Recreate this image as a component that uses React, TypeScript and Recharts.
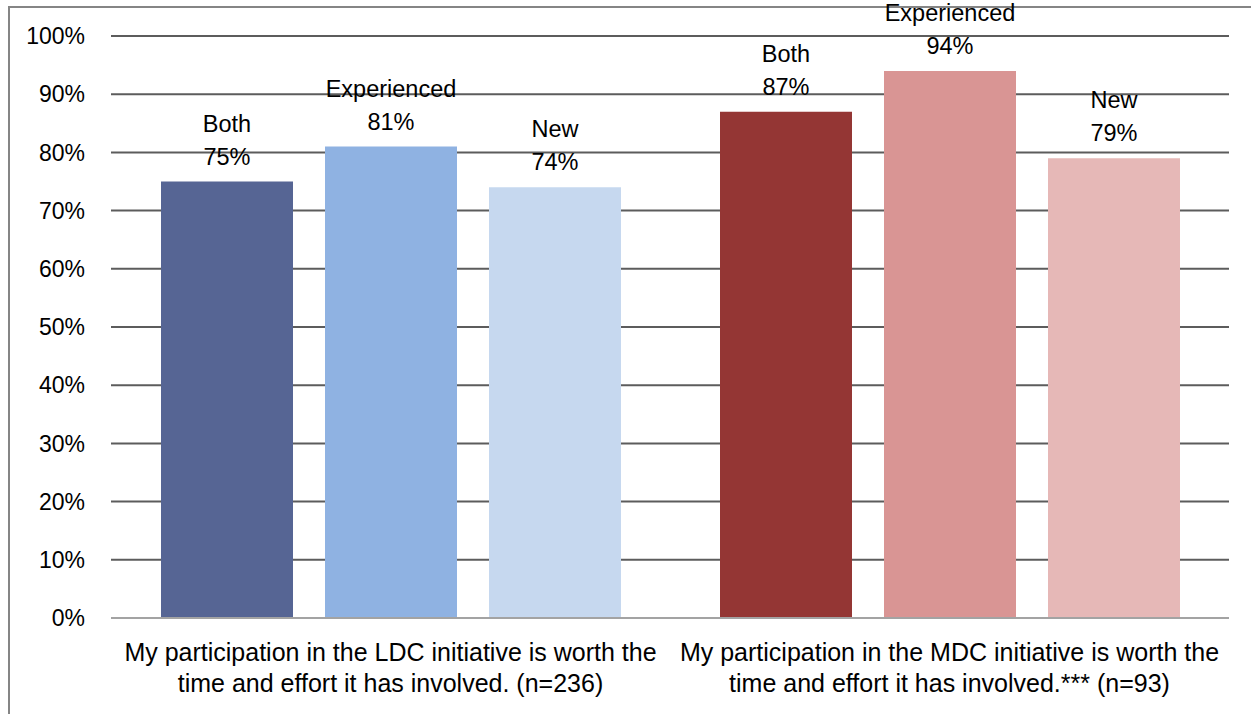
import { BarChart, Bar, XAxis, YAxis, CartesianGrid, Cell, LabelList } from "recharts"

const categories = [
  "My participation in the LDC initiative is worth the\ntime and effort it has involved. (n=236)",
  "My participation in the MDC initiative is worth the\ntime and effort it has involved.*** (n=93)",
]
const seriesNames = ["Both", "Experienced", "New"]
const bothValues = [75, 87]
const experiencedValues = [81, 94]
const newValues = [74, 79]
const yTicks = [0, 10, 20, 30, 40, 50, 60, 70, 80, 90, 100]

// colours per category (LDC blues, MDC reds), one per series
const categoryColors = [
  ["#566594", "#8FB2E2", "#C6D8EF"],
  ["#943634", "#D99594", "#E6B8B7"],
]

const FONT = "'Liberation Sans', Arial, sans-serif"

const data = categories.map((name, i) => ({
  name,
  both: bothValues[i],
  experienced: experiencedValues[i],
  newer: newValues[i],
}))

const seriesKeys = ["both", "experienced", "newer"]

const makeLabel = (seriesName: string) => (props: any) => {
  const { x, y, width, value } = props
  const cx = x + width / 2
  return (
    <text x={cx} y={y} textAnchor="middle" fontSize={23.5} fontFamily={FONT} fill="#000">
      <tspan x={cx} dy={-50}>{seriesName}</tspan>
      <tspan x={cx} dy={33}>{`${value}%`}</tspan>
    </text>
  )
}

const CategoryTick = ({ x, y, payload }: any) => {
  const lines = String(payload.value).split("\n")
  return (
    <text x={x} y={y} textAnchor="middle" fontSize={25} fontFamily={FONT} fill="#000">
      {lines.map((line, i) => (
        <tspan key={i} x={x} dy={i === 0 ? 43 : 31}>
          {line}
        </tspan>
      ))}
    </text>
  )
}

export default function App() {
  return (
    <div style={{ position: "absolute", left: 0, top: 0, width: 1251, height: 714, overflow: "hidden", background: "#fff" }}>
      <div
        style={{
          position: "absolute",
          left: 8,
          top: 6,
          width: 1300,
          height: 760,
          border: "2px solid #858585",
        }}
      />
      <div style={{ position: "absolute", left: 0, top: 0 }}>
        <BarChart
          width={1251}
          height={714}
          data={data}
          margin={{ top: 36, right: 22, bottom: 6, left: 0 }}
          barSize={132}
          barGap={32}
        >
          <CartesianGrid vertical={false} stroke="#5c5c5c" strokeWidth={2} />
          <XAxis
            dataKey="name"
            height={90}
            tickLine={false}
            tickSize={0}
            tickMargin={0}
            axisLine={{ stroke: "#a3a3a3", strokeWidth: 2 }}
            tick={<CategoryTick />}
            interval={0}
          />
          <YAxis
            width={111}
            domain={[0, 100]}
            ticks={yTicks}
            interval={0}
            tickFormatter={(v) => `${v}%`}
            axisLine={false}
            tickLine={false}
            tickSize={0}
            tickMargin={26}
            tick={{ fontSize: 23, fontFamily: FONT, fill: "#000" }}
          />
          {seriesKeys.map((key, s) => (
            <Bar key={key} dataKey={key} isAnimationActive={false}>
              {data.map((_, i) => (
                <Cell key={i} fill={categoryColors[i][s]} />
              ))}
              <LabelList dataKey={key} content={makeLabel(seriesNames[s])} />
            </Bar>
          ))}
        </BarChart>
      </div>
    </div>
  )
}
